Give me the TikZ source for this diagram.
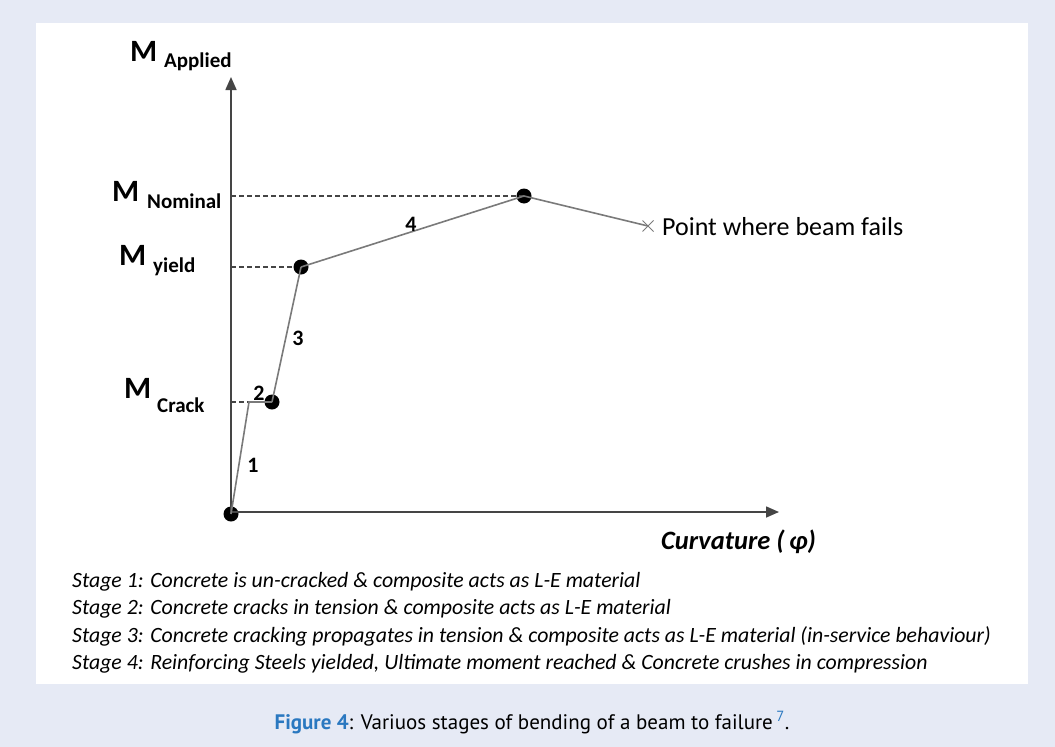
\documentclass[tikz,border=0pt]{standalone}
\usepackage{fontspec}
\setmainfont{Carlito}
\newfontfamily\capfont{PT Sans}
\usetikzlibrary{arrows.meta,shapes.misc}
\definecolor{bgc}{HTML}{E6EAF5}
\definecolor{figblue}{HTML}{2A78C0}
\definecolor{axisc}{HTML}{454545}
\definecolor{linec}{HTML}{7A7A7A}
\tikzset{
  dot/.style={circle,fill=black,inner sep=0pt,minimum size=15pt},
  failx/.style={cross out,draw=linec,line width=1pt,inner sep=0pt,minimum size=10pt},
  axisline/.style={draw=axisc,line width=1.6pt,-{Triangle[length=13pt,width=11pt]}},
  curve/.style={draw=linec,line width=1.6pt},
  guide/.style={draw=axisc,line width=1.2pt,dash pattern=on 5pt off 3pt},
  mlabel/.style={anchor=base west,inner sep=0pt,font=\fontsize{31}{34}\selectfont\bfseries},
  msub/.style={anchor=base west,inner sep=0pt,font=\fontsize{21}{24}\selectfont\bfseries},
  num/.style={inner sep=0pt,font=\fontsize{22}{24}\selectfont\bfseries},
  stage/.style={anchor=base west,inner sep=0pt,font=\fontsize{21.8}{24}\selectfont\itshape},
}
\begin{document}
\begin{tikzpicture}[x=1pt,y=-1pt]
\useasboundingbox (0,0) rectangle (1055,747);
\fill[bgc] (0,0) rectangle (1055,747);
\fill[white] (36,23) rectangle (1028,684);

% points
\node[dot] (O) at (231,514) {};
\node[dot] (C) at (272,402) {};
\node[dot] (Y) at (301,267) {};
\node[dot] (N) at (524,196) {};
\node[failx] (F) at (648,226) {};
\coordinate (K) at (249,402);
\coordinate (ytop) at (231,77);
\coordinate (xend) at (779,512);
\coordinate (aN) at (231,196);
\coordinate (aY) at (231,267);
\coordinate (aC) at (231,402);

% axes
\draw[axisline] (231,514) -- (ytop);
\draw[axisline] (231,512) -- (xend);

% guides
\draw[guide] (aN) -- (N.center);
\draw[guide] (aY) -- (Y.west);
\draw[guide] (aC) -- (K);

% curve
\draw[curve] (O.center) -- (K) -- (C.center);
\draw[curve] (C.center) -- (Y.center);
\draw[curve] (Y.center) -- (N.center);
\draw[curve] (N.center) -- (F.center);

% stage numbers
\node[num] (n1) at (253,465) {1};
\node[num] (n2) at (259,393) {2};
\node[num] (n3) at (298,338) {3};
\node[num] (n4) at (411,224) {4};

% axis labels
\node[mlabel] (mA) at (130,61) {M};
\node[msub] (sA) at (164,67) {Applied};
\node[mlabel] (mN) at (112,201) {M};
\node[msub] (sN) at (147,208) {Nominal};
\node[mlabel] (mY) at (119,265) {M};
\node[msub] (sY) at (153,272) {yield};
\node[mlabel] (mC) at (124,398) {M};
\node[msub] (sC) at (157,412) {Crack};

\node[anchor=base west,inner sep=0pt,font=\fontsize{26}{28}\selectfont] (pf) at (662,235) {Point where beam fails};

\node[anchor=base west,inner sep=0pt,font=\fontsize{26.5}{28}\selectfont\bfseries\itshape] (cv) at (661,549) {Curvature (\,φ)};

% stage descriptions
\node[stage] (s1) at (72,587) {Stage 1: Concrete is un-cracked \& composite acts as L-E material};
\node[stage] (s2) at (72,614) {Stage 2: Concrete cracks in tension \& composite acts as L-E material};
\node[stage] (s3) at (72,642) {Stage 3: Concrete cracking propagates in tension \& composite acts as L-E material (in-service behaviour)};
\node[stage] (s4) at (72,669) {Stage 4: Reinforcing Steels yielded, Ultimate moment reached \& Concrete crushes in compression};

% caption
\node[anchor=base,inner sep=0pt,font=\capfont\fontsize{21}{23}\selectfont] (cap) at (532,729)
  {\textcolor{figblue}{\bfseries Figure 4}: Variuos stages of bending of a beam to failure\,\textsuperscript{\textcolor{figblue}{7}}.};
\end{tikzpicture}
\end{document}
